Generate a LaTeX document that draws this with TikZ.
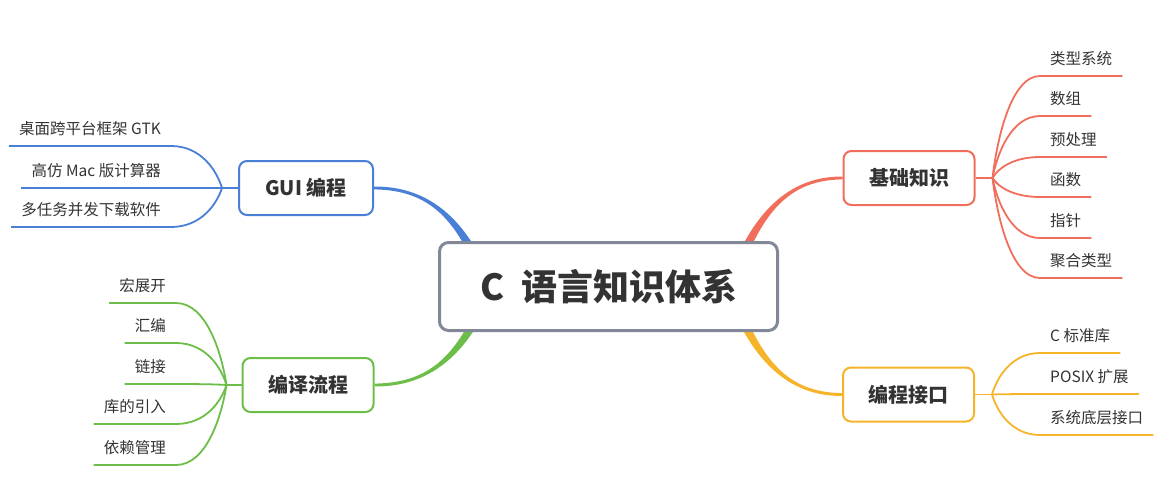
\documentclass[tikz,border=0pt]{standalone}
\usepackage{fontspec}
\setmainfont{Noto Sans CJK SC}
\usetikzlibrary{calc}

\definecolor{ink}{HTML}{333333}
\definecolor{frame}{HTML}{838898}
\definecolor{cblue}{HTML}{4A7FD6}
\definecolor{cred}{HTML}{F26E5C}
\definecolor{cgreen}{HTML}{6CBE48}
\definecolor{corange}{HTML}{F6B42A}

\pgfdeclarelayer{back}
\pgfsetlayers{back,main}

% tapered main branch from the root box (#1) to a topic box (#2), colour #3,
% #4 = +1/-1 picks which edge pairs with which
\newcommand\mainbranch[4]{%
  \fill[#3] let \p1=(#1), \p2=(#2) in
    ({\x1+4.5pt},\y1)
    .. controls ({\x1+0.245*(\x2-\x1)+3.5pt},{\y1+0.685*(\y2-\y1)})
           and ({\x2+0.44*(\x1-\x2)},{\y2+(#4)*2pt})
    .. ({\x2},{\y2+(#4)*1.4pt})
    -- ({\x2},{\y2-(#4)*1.4pt})
    .. controls ({\x2+0.44*(\x1-\x2)},{\y2-(#4)*2pt})
           and ({\x1+0.245*(\x2-\x1)-3.5pt},{\y1+0.685*(\y2-\y1)})
    .. ({\x1-4.5pt},\y1) -- cycle;}

% curved connector from a branch point (#1) to the underline of leaf #2
\newcommand\leafline[4]{%
  \draw let \p1=(#1), \p2=(#2.#3) in (#1)
    .. controls ({\x1+0.1*(\x2-\x1)},{\y1+0.4*(\y2-\y1)})
           and ({\x1+0.4*(\x2-\x1)},\y2)
    .. (#2.#3) -- (#2.#4);}

\tikzset{
  root/.style={draw=frame, line width=3pt, rounded corners=9pt, fill=white,
    minimum width=338pt, minimum height=88pt, text=ink,
    font=\bfseries\fontsize{36}{36}\selectfont},
  topic/.style={draw, line width=2pt, rounded corners=8pt, fill=white,
    minimum width=131pt, minimum height=54pt, text=ink,
    font=\bfseries\fontsize{20}{20}\selectfont},
  leaf/.style={inner xsep=10pt, inner ysep=0pt, text height=12pt,
    text depth=11pt, text=ink, font=\fontsize{15.5}{15.5}\selectfont},
  twig/.style={line width=1.8pt},
}

\begin{document}
\begin{tikzpicture}[x=1pt, y=-1pt]
  \useasboundingbox (0,0) rectangle (1156,499);

  % root and the four topics
  \node[root] (c) at (608.5,286.5) {C\hspace{17pt}语言知识体系};
  \node[topic, draw=cblue, minimum width=134pt] (gui) at (306,188) {GUI 编程};
  \node[topic, draw=cgreen] (comp) at (308,385) {编译流程};
  \node[topic, draw=cred] (fund) at (909,178) {基础知识};
  \node[topic, draw=corange] (api) at (908.5,394.5) {编程接口};

  % branch points beside the topics
  \coordinate (gb) at ($(gui.west)+(-16,0)$);
  \coordinate (cb) at ($(comp.west)+(-15,0)$);
  \coordinate (fb) at ($(fund.east)+(17,0)$);
  \coordinate (ab) at ($(api.east)+(17,0)$);

  % where the main branches leave the root box
  \coordinate (s1) at (467,242);
  \coordinate (s2) at (749,242);
  \coordinate (s3) at (469,331);
  \coordinate (s4) at (748,331);

  % leaves: GUI
  \node[leaf, anchor=south east] (g1) at (171,146) {桌面跨平台框架 GTK};
  \node[leaf, anchor=south east] (g2) at (171,188) {高仿 Mac 版计算器};
  \node[leaf, anchor=south east] (g3) at (171,227) {多任务并发下载软件};

  % leaves: build steps
  \node[leaf, anchor=south east] (k1) at (176,303) {宏展开};
  \node[leaf, anchor=south east] (k2) at (176,343) {汇编};
  \node[leaf, anchor=south east] (k3) at (176,384) {链接};
  \node[leaf, anchor=south east] (k4) at (176,424) {库的引入};
  \node[leaf, anchor=south east] (k5) at (176,465) {依赖管理};

  % leaves: fundamentals
  \node[leaf, anchor=south west] (f1) at (1040,76) {类型系统};
  \node[leaf, anchor=south west] (f2) at (1040,116) {数组};
  \node[leaf, anchor=south west] (f3) at (1040,157) {预处理};
  \node[leaf, anchor=south west] (f4) at (1040,197) {函数};
  \node[leaf, anchor=south west] (f5) at (1040,238) {指针};
  \node[leaf, anchor=south west] (f6) at (1040,278) {聚合类型};

  % leaves: interfaces
  \node[leaf, anchor=south west] (a1) at (1040,353) {C 标准库};
  \node[leaf, anchor=south west] (a2) at (1040,394) {POSIX 扩展};
  \node[leaf, anchor=south west] (a3) at (1040,435) {系统底层接口};

  \begin{pgfonlayer}{back}
    \mainbranch{s1}{gui.east}{cblue}{1}
    \mainbranch{s2}{fund.west}{cred}{-1}
    \mainbranch{s3}{comp.east}{cgreen}{-1}
    \mainbranch{s4}{api.west}{corange}{1}

    \begin{scope}[twig, draw=cblue]
      \draw (gui.west) -- (gb);
      \leafline{gb}{g1}{south east}{south west}
      \leafline{gb}{g2}{south east}{south west}
      \leafline{gb}{g3}{south east}{south west}
    \end{scope}
    \begin{scope}[twig, draw=cgreen]
      \draw (comp.west) -- (cb);
      \leafline{cb}{k1}{south east}{south west}
      \leafline{cb}{k2}{south east}{south west}
      \leafline{cb}{k3}{south east}{south west}
      \leafline{cb}{k4}{south east}{south west}
      \leafline{cb}{k5}{south east}{south west}
    \end{scope}
    \begin{scope}[twig, draw=cred]
      \draw (fund.east) -- (fb);
      \leafline{fb}{f1}{south west}{south east}
      \leafline{fb}{f2}{south west}{south east}
      \leafline{fb}{f3}{south west}{south east}
      \leafline{fb}{f4}{south west}{south east}
      \leafline{fb}{f5}{south west}{south east}
      \leafline{fb}{f6}{south west}{south east}
    \end{scope}
    \begin{scope}[twig, draw=corange]
      \draw (api.east) -- (ab);
      \leafline{ab}{a1}{south west}{south east}
      \leafline{ab}{a2}{south west}{south east}
      \leafline{ab}{a3}{south west}{south east}
    \end{scope}
  \end{pgfonlayer}
\end{tikzpicture}
\end{document}
